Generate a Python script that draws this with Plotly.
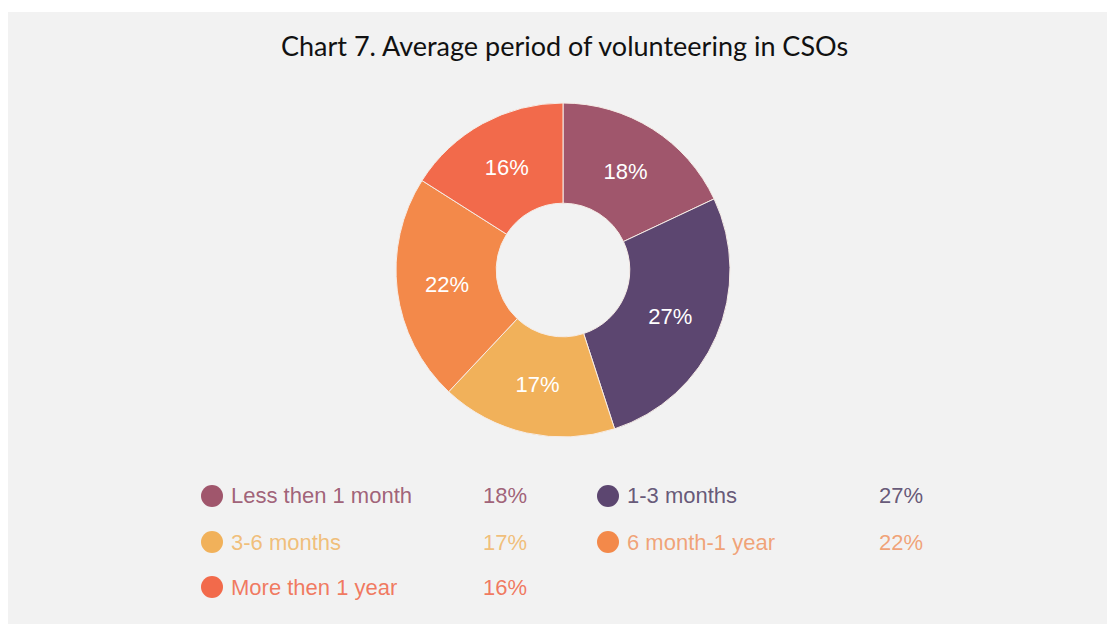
import plotly.graph_objects as go

# Data
categories = ["Less then 1 month", "1-3 months", "3-6 months", "6 month-1 year", "More then 1 year"]
shares = [18, 27, 17, 22, 16]
colors = ["#a0566c", "#5c4670", "#f1b15a", "#f3894a", "#f26a4b"]
text_colors = ["rgba(150,80,105,0.9)", "rgba(85,70,105,0.9)", "rgba(240,177,90,0.8)",
               "rgba(240,137,80,0.75)", "rgba(240,100,70,0.85)"]

W, H = 1107, 624


def px_x(x):
    return x / W


def px_y(y):
    return 1 - y / H


fig = go.Figure()

fig.add_trace(go.Pie(
    labels=categories,
    values=shares,
    hole=0.4,
    sort=False,
    direction="clockwise",
    rotation=0,
    marker=dict(colors=colors, line=dict(color="#f6ece6", width=1)),
    texttemplate="%{value}%",
    textposition="inside",
    insidetextorientation="horizontal",
    textfont=dict(family="Liberation Sans, Arial, sans-serif", size=22, color="white"),
    domain=dict(x=[px_x(396), px_x(730)], y=[px_y(437), px_y(103)]),
    showlegend=False,
    hoverinfo="label+percent",
))

shapes = [
    # grey panel behind the chart
    dict(type="rect", xref="paper", yref="paper", x0=px_x(8), x1=1.01, y0=-0.01, y1=px_y(12),
         fillcolor="#f2f2f2", line=dict(width=0), layer="below"),
]
annotations = [
    dict(text="Chart 7. Average period of volunteering in CSOs", xref="paper", yref="paper",
         x=px_x(564), y=px_y(46), xanchor="center", yanchor="middle", showarrow=False,
         font=dict(family="Lato, 'Noto Sans', sans-serif", size=27, color="#111111")),
]

# Two-column legend with values
col_circle_x = [212, 608]
col_value_right = [529, 925]
row_y = [496, 542, 587]
for i, (cat, val, col, tcol) in enumerate(zip(categories, shares, colors, text_colors)):
    r, c = divmod(i, 2)
    cx, cy = col_circle_x[c], row_y[r]
    shapes.append(dict(type="circle", xref="paper", yref="paper",
                       xsizemode="pixel", ysizemode="pixel",
                       xanchor=px_x(cx), yanchor=px_y(cy),
                       x0=-11, x1=11, y0=-11, y1=11,
                       fillcolor=col, line=dict(width=0)))
    annotations.append(dict(text=cat, xref="paper", yref="paper",
                            x=px_x(cx + 17), y=px_y(cy), xanchor="left", yanchor="middle",
                            showarrow=False,
                            font=dict(family="Liberation Sans, Arial, sans-serif", size=22, color=tcol)))
    annotations.append(dict(text=f"{val}%", xref="paper", yref="paper",
                            x=px_x(col_value_right[c]), y=px_y(cy), xanchor="right", yanchor="middle",
                            showarrow=False,
                            font=dict(family="Liberation Sans, Arial, sans-serif", size=22, color=tcol)))

fig.update_layout(
    width=W, height=H,
    margin=dict(l=0, r=0, t=0, b=0),
    paper_bgcolor="white",
    plot_bgcolor="white",
    shapes=shapes,
    annotations=annotations,
)

fig.write_html("out.html")
